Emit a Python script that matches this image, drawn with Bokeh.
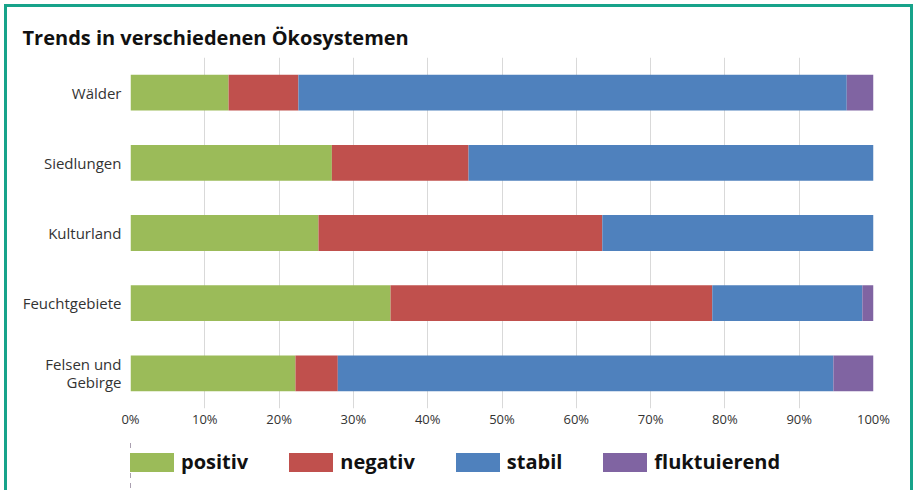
from bokeh.plotting import figure
from bokeh.layouts import column
from bokeh.models import (FactorRange, Range1d, Legend, LegendItem, PrintfTickFormatter,
                          FixedTicker, ColumnDataSource)
from bokeh.embed import file_html
from bokeh.resources import INLINE

# ---- data ----
categories = ["Wälder", "Siedlungen", "Kulturland", "Feuchtgebiete", "Felsen und\nGebirge"]
positiv = [13.2, 27.1, 25.3, 35.0, 22.2]
negativ = [9.4, 18.4, 38.2, 43.3, 5.7]
stabil = [73.8, 54.5, 36.5, 20.2, 66.7]
fluktuierend = [3.6, 0.0, 0.0, 1.5, 5.4]
series = ["positiv", "negativ", "stabil", "fluktuierend"]
colors = ["#9bbb59", "#c0504d", "#4f81bd", "#8064a2"]
x_ticks = list(range(0, 101, 10))
title_text = "Trends in verschiedenen Ökosystemen"

FONT = "Open Sans"
TEAL = "#17a38a"

source = ColumnDataSource(dict(cat=categories, positiv=positiv, negativ=negativ,
                               stabil=stabil, fluktuierend=fluktuierend))

p = figure(width=903, height=433,
           y_range=FactorRange(factors=list(reversed(categories))),
           x_range=Range1d(0, 100),
           output_backend="svg", toolbar_location=None,
           min_border_left=123, min_border_right=37,
           min_border_top=50, min_border_bottom=32)

renderers = p.hbar_stack(series, y="cat", height=0.51, color=colors,
                         line_color=None, source=source)

p.outline_line_color = None
p.background_fill_color = "white"
p.border_fill_color = "white"

p.ygrid.visible = False
p.xgrid.ticker = FixedTicker(ticks=x_ticks)
p.xgrid.grid_line_color = "#d9d9d9"
p.xgrid.grid_line_width = 1

p.xaxis.ticker = FixedTicker(ticks=x_ticks)
p.xaxis.formatter = PrintfTickFormatter(format="%d%%")
for ax in (p.xaxis[0], p.yaxis[0]):
    ax.axis_line_color = None
    ax.major_tick_line_color = None
    ax.minor_tick_line_color = None
    ax.major_label_text_font = FONT
    ax.major_label_text_color = "#333333"
p.yaxis[0].separator_line_color = None
p.xaxis.major_label_text_font_size = "13px"
p.xaxis.major_label_standoff = -5
p.yaxis.major_label_text_font_size = "15px"
p.yaxis.major_label_text_line_height = 0.9
p.yaxis.major_label_standoff = 3

# title
p.title.text = title_text
p.title.align = "left"
p.title.offset = -108
p.title.standoff = 13
p.title.text_font = FONT
p.title.text_font_style = "bold"
p.title.text_font_size = "20px"
p.title.text_color = "#111111"

# ---- legend strip (separate small figure, same data kept outside its view) ----
lg = figure(width=903, height=50, x_range=Range1d(200, 300),
            y_range=FactorRange(factors=list(reversed(categories))),
            output_backend="svg", toolbar_location=None,
            x_axis_location=None, y_axis_location=None,
            min_border=0, min_border_left=0, min_border_right=0,
            min_border_top=0, min_border_bottom=0)
lg.outline_line_color = None
lg.xgrid.grid_line_color = None
lg.ygrid.grid_line_color = None
lg.xgrid.visible = False
lg.ygrid.visible = False
lg.border_fill_color = "white"
lg.background_fill_color = "white"
leg_renderers = lg.hbar_stack(series, y="cat", height=0.51, color=colors,
                              line_color=None, source=source)

legend = Legend(items=[LegendItem(label=s, renderers=[r]) for s, r in zip(series, leg_renderers)],
                orientation="horizontal", location=(-6, 15),
                glyph_width=55, glyph_height=24, label_standoff=2, spacing=35,
                padding=0, margin=0, border_line_color=None, background_fill_alpha=0,
                label_text_font=FONT, label_text_font_style="bold",
                label_text_font_size="20px", label_text_color="#111111")
lg.add_layout(legend)

layout = column(p, lg, spacing=0)
layout.styles = {"margin": "4px 0 0 4px",
                 "border-left": "3px solid " + TEAL,
                 "border-top": "3px solid " + TEAL,
                 "border-right": "3px solid " + TEAL}

open("out.html", "w").write(file_html(layout, INLINE))
